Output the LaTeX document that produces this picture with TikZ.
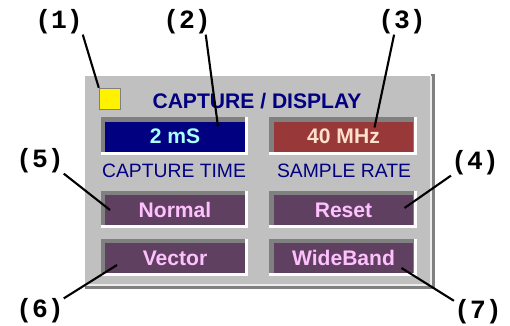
\documentclass[tikz,border=0pt]{standalone}
\usepackage{fontspec}
\setmainfont{Liberation Sans}
\newfontfamily\tagfont{Liberation Mono}
\usetikzlibrary{calc}

\definecolor{panelgray}{HTML}{C0C0C0}
\definecolor{shadegray}{HTML}{808080}
\definecolor{titleblue}{HTML}{000080}
\definecolor{timeblue}{HTML}{000080}
\definecolor{ratered}{HTML}{993838}
\definecolor{btnpurple}{HTML}{604060}
\definecolor{cyantext}{HTML}{A8FFFF}
\definecolor{peachtext}{HTML}{FFE0C8}
\definecolor{pinktext}{HTML}{FFC0FF}

\pgfdeclarelayer{panel}
\pgfdeclarelayer{frame}
\pgfsetlayers{panel,frame,main}

\begin{document}
\begin{tikzpicture}[x=0.02cm, y=-0.02cm,
    field/.style={minimum width=2.8cm, minimum height=0.6cm, inner sep=0pt, font=\fontsize{12}{12}\selectfont\bfseries},
    tag/.style={font=\tagfont\bfseries\fontsize{15}{15}\selectfont, inner sep=0pt},
    caption/.style={font=\fontsize{11}{11}\selectfont, text=titleblue},
    lead/.style={line width=1.2pt},
]
\useasboundingbox (0,0) rectangle (510,325);

% panel
\begin{pgfonlayer}{panel}
  \fill[shadegray] (431,74) rectangle (435,289);
  \fill[shadegray] (85,285) rectangle (435,289);
  \fill[white!70!panelgray] (85,76) rectangle (432,286);
  \fill[panelgray] (85,76) rectangle (430,284);
\end{pgfonlayer}

\node[draw=gray, fill=yellow, line width=0.8pt, minimum size=0.42cm, inner sep=0pt] (led) at (110,99) {};
\node[font=\fontsize{12}{12}\selectfont\bfseries, text=titleblue] (title) at (257,101) {CAPTURE / DISPLAY};

% readouts
\node[field, fill=timeblue, text=cyantext] (time) at (175,136.5) {2 mS};
\node[field, fill=ratered, text=peachtext] (rate) at (343.5,136.5) {40 MHz};
\node[caption] (timecap) at (174,170.5) {CAPTURE TIME};
\node[caption] (ratecap) at (344,170.5) {SAMPLE RATE};

% buttons
\node[field, fill=btnpurple, text=pinktext] (normal) at (175,210) {Normal};
\node[field, fill=btnpurple, text=pinktext] (reset) at (343.5,210) {Reset};
\node[field, fill=btnpurple, text=pinktext] (vector) at (175,258) {Vector};
\node[field, fill=btnpurple, text=pinktext] (wide) at (343.5,258) {WideBand};

% sunken frames
\begin{pgfonlayer}{frame}
\foreach \n in {time,rate,normal,reset,vector,wide} {
  \fill[white] ($(\n.north west)+(-4,-4)$) rectangle ($(\n.south east)+(3,3)$);
  \fill[shadegray] ($(\n.north west)+(-4,-4)$) rectangle (\n.south east);
}
\end{pgfonlayer}

% callouts
\node[tag] (l1) at (59,22) {(1)};
\node[tag] (l2) at (187,22) {(2)};
\node[tag] (l3) at (402,22) {(3)};
\node[tag] (l4) at (475,163) {(4)};
\node[tag] (l5) at (40,161) {(5)};
\node[tag] (l6) at (40,311) {(6)};
\node[tag] (l7) at (478,312) {(7)};

\coordinate (tip2) at ($(time.center)+(43,-10)$);
\coordinate (tip3) at ($(rate.center)+(31,-9)$);
\coordinate (tip4) at ($(reset.center)+(61,-2)$);
\coordinate (tip5) at ($(normal.center)+(-65,0)$);
\coordinate (tip6) at ($(vector.center)+(-58,7)$);
\coordinate (tip7) at ($(wide.center)+(58,10)$);

\draw[lead] (l1.-28) -- (led.north west);
\draw[lead] (l2.-34) -- (tip2);
\draw[lead] (l3.-122) -- (tip3);
\draw[lead] (l4.south west) -- (tip4);
\draw[lead] (l5.-28) -- (tip5);
\draw[lead] (l6.28) -- (tip6);
\draw[lead] (l7.155) -- (tip7);

\end{tikzpicture}
\end{document}
